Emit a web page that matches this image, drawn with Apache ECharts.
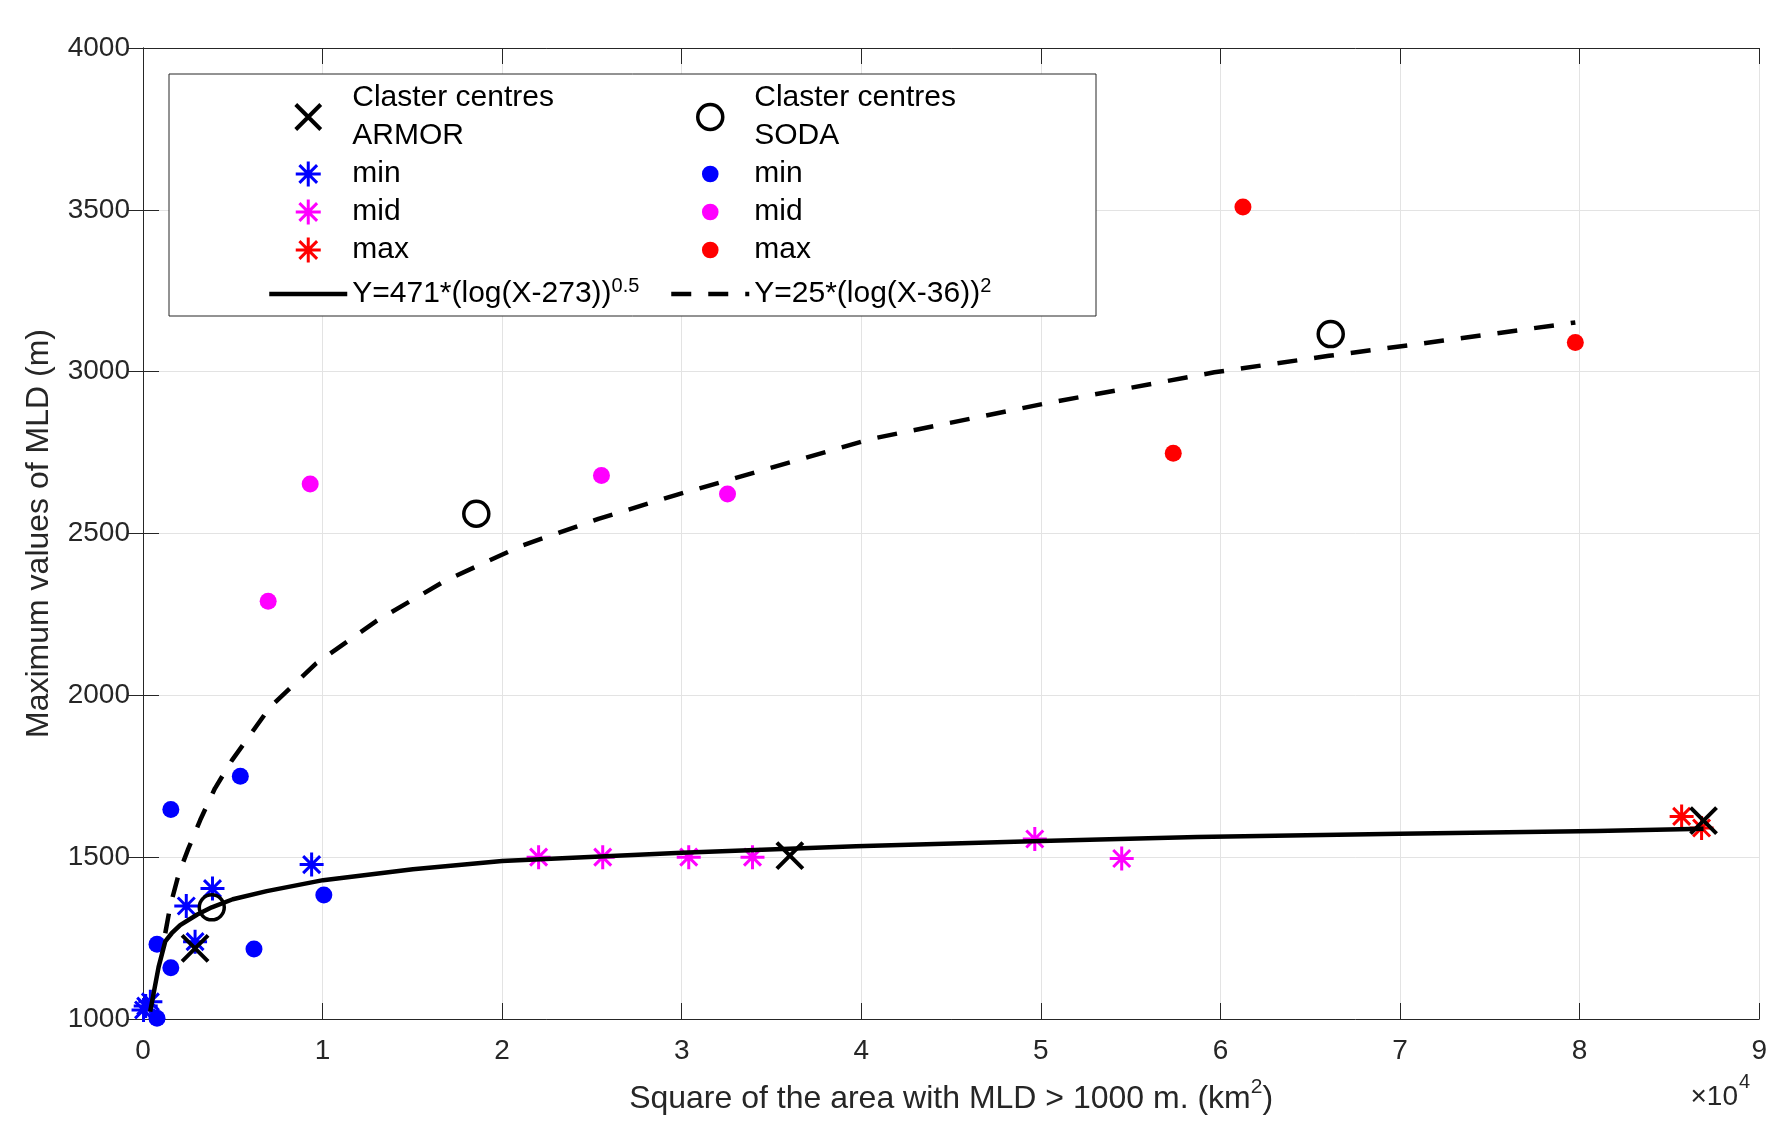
<!DOCTYPE html>
<html>
<head>
<meta charset="utf-8">
<script src="https://cdn.jsdelivr.net/npm/echarts@6/dist/echarts.min.js"></script>
<style>
html,body{margin:0;padding:0;background:#fff}
#main{width:1770px;height:1125px}
</style>
</head>
<body>
<div id="main"></div>
<script>
// values (x in km^2, shown on axis as x/10^4)
var armorCentresX = [2900, 36020, 86900];
var armorCentresY = [1218, 1505, 1613];
var sodaCentresX = [3830, 18560, 66140];
var sodaCentresY = [1345, 2561, 3116];

var armorMinX = [30, 150, 410, 2410, 2900, 3870, 9390];
var armorMinY = [1028, 1040, 1053, 1349, 1239, 1403, 1477];
var armorMidX = [22030, 25600, 30390, 33940, 49660, 54500];
var armorMidY = [1500, 1500, 1500, 1500, 1556, 1496];
var armorMaxX = [85680, 86790];
var armorMaxY = [1626, 1590];

var sodaMinX = [780, 780, 1550, 1550, 5420, 6180, 10070];
var sodaMinY = [1002, 1231, 1158, 1647, 1750, 1216, 1383];
var sodaMidX = [6970, 9310, 25530, 32550];
var sodaMidY = [2291, 2653, 2679, 2622];
var sodaMaxX = [57370, 61250, 79760];
var sodaMaxY = [2748, 3509, 3090];

// fitted curves, points
var armorFitX = [400, 870, 1240, 1600, 2070, 3000, 3830, 5000, 6890, 10030, 15030, 20000, 30000, 39700, 50000, 58700, 70000, 80960, 86900];
var armorFitY = [1023, 1161, 1240, 1265, 1290, 1322, 1345, 1370, 1395, 1429, 1463, 1488, 1514, 1534, 1550, 1562, 1572, 1581, 1588];
var sodaFitX = [1240, 1520, 2000, 2530, 3180, 4000, 4950, 7080, 9630, 13030, 16860, 21110, 25360, 29620, 32590, 40530, 50090, 59660, 66040, 72420, 79760];
var sodaFitY = [1265, 1350, 1450, 1527, 1614, 1712, 1799, 1964, 2098, 2231, 2355, 2463, 2545, 2618, 2665, 2792, 2900, 2998, 3049, 3096, 3152];

var xTicks = ['0', '1', '2', '3', '4', '5', '6', '7', '8', '9'];

function pairs(xs, ys) {
    return xs.map(function (x, i) { return [x, ys[i]]; });
}

var FONT = 'Liberation Sans';
var starPath = 'path://M0,-10L0,10M-10,0L10,0M-7.07,-7.07L7.07,7.07M-7.07,7.07L7.07,-7.07';
var crossPath = 'path://M-10,-10L10,10M-10,10L10,-10';
var dotIcon = 'path://M-12,-12L-12,-12M12,12L12,12M-8,0A8,8 0 1 1 8,0A8,8 0 1 1 -8,0Z';

var legendText = {
    'ARMOR centres': 'Claster centres\nARMOR',
    'ARMOR min': 'min', 'ARMOR mid': 'mid', 'ARMOR max': 'max',
    'ARMOR fit': '{b|Y=471*(log(X-273))}{s|0.5}',
    'SODA centres': 'Claster centres\nSODA',
    'SODA min': 'min', 'SODA mid': 'mid', 'SODA max': 'max',
    'SODA fit': '{b|Y=25*(log(X-36))}{s|2}'
};

var legendTextStyle = {
    fontSize: 30, fontFamily: FONT, color: '#000', lineHeight: 38,
    rich: {
        b: { fontSize: 30, fontFamily: FONT, color: '#000', lineHeight: 50 },
        s: { fontSize: 20, fontFamily: FONT, color: '#000', verticalAlign: 'top', padding: [7, 0, 0, 0] }
    }
};

function starSeries(name, xs, ys, color) {
    return {
        name: name, type: 'scatter', z: 2,
        symbol: starPath, symbolSize: 24,
        itemStyle: { color: color, borderColor: color, borderWidth: 3, opacity: 1 },
        data: pairs(xs, ys)
    };
}
function dotSeries(name, xs, ys, color) {
    return {
        name: name, type: 'scatter', z: 2,
        symbol: 'circle', symbolSize: 17,
        itemStyle: { color: color, borderWidth: 0, opacity: 1 },
        data: pairs(xs, ys)
    };
}

var axisCommon = {
    type: 'value',
    axisLine: { show: true, lineStyle: { color: '#262626', width: 1 } },
    axisTick: { show: true, inside: true, length: 16, lineStyle: { color: '#262626', width: 1 } }
};

var myChart = echarts.init(document.getElementById('main'));
var option = {
    animation: false,
    backgroundColor: '#fff',
    grid: { left: 143, right: 7, top: 48, bottom: 106 },
    xAxis: [
        Object.assign({}, axisCommon, {
            position: 'bottom', min: 0, max: 90000, interval: 10000,
            name: '{m|Square of the area with MLD > 1000 m. (km}{s|2}{m|)}',
            nameLocation: 'middle', nameGap: 52,
            nameTextStyle: {
                color: '#262626', fontFamily: FONT, fontSize: 32,
                rich: {
                    m: { fontSize: 32, fontFamily: FONT, color: '#262626', lineHeight: 56 },
                    s: { fontSize: 21, fontFamily: FONT, color: '#262626', verticalAlign: 'top', padding: [6, 0, 0, 0] }
                }
            },
            axisLabel: {
                color: '#262626', fontSize: 28, fontFamily: FONT, margin: 18,
                formatter: function (v) { return xTicks[Math.round(v / 10000)]; }
            },
            splitLine: { show: true, lineStyle: { color: '#e3e3e3', width: 1 } }
        }),
        Object.assign({}, axisCommon, {
            position: 'top', min: 0, max: 90000, interval: 10000,
            axisLabel: { show: false }, splitLine: { show: false }
        })
    ],
    yAxis: [
        Object.assign({}, axisCommon, {
            position: 'left', min: 1000, max: 4000, interval: 500,
            name: 'Maximum values of MLD (m)',
            nameLocation: 'middle', nameGap: 88,
            nameTextStyle: { color: '#262626', fontFamily: FONT, fontSize: 32 },
            axisLabel: {
                color: '#262626', fontSize: 28, fontFamily: FONT, margin: 13,
                formatter: function (v) { return String(v); }
            },
            splitLine: { show: true, lineStyle: { color: '#e3e3e3', width: 1 } }
        }),
        Object.assign({}, axisCommon, {
            position: 'right', min: 1000, max: 4000, interval: 500,
            axisLabel: { show: false }, splitLine: { show: false }
        })
    ],
    legend: [
        {
            orient: 'vertical', left: 267, top: 79, padding: 0, itemGap: 0,
            itemWidth: 78, itemHeight: 25, selectedMode: false, z: 5,
            textStyle: legendTextStyle,
            formatter: function (n) { return legendText[n]; },
            data: [
                { name: 'ARMOR centres', itemStyle: { borderWidth: 4 } },
                { name: 'ARMOR min', itemStyle: { borderWidth: 3 } },
                { name: 'ARMOR mid', itemStyle: { borderWidth: 3 } },
                { name: 'ARMOR max', itemStyle: { borderWidth: 3 } },
                { name: 'ARMOR fit', lineStyle: { width: 4.5 }, itemStyle: { opacity: 0 } }
            ]
        },
        {
            orient: 'vertical', left: 669, top: 79, padding: 0, itemGap: 0,
            itemWidth: 78, itemHeight: 25, selectedMode: false, z: 5,
            textStyle: legendTextStyle,
            formatter: function (n) { return legendText[n]; },
            data: [
                { name: 'SODA centres', itemStyle: { borderWidth: 3.5 } },
                { name: 'SODA min', icon: dotIcon },
                { name: 'SODA mid', icon: dotIcon },
                { name: 'SODA max', icon: dotIcon },
                { name: 'SODA fit', lineStyle: { width: 4.5 }, itemStyle: { opacity: 0 } }
            ]
        }
    ],
    graphic: [
        {
            type: 'rect', z: 3,
            shape: { x: 169, y: 74, width: 927, height: 242 },
            style: { fill: '#fff', stroke: '#262626', lineWidth: 1 }
        },
        {
            type: 'text', z: 3,
            style: { text: '\u00d710', x: 1738, y: 1097, textAlign: 'right', align: 'right', textVerticalAlign: 'middle', verticalAlign: 'middle', fontSize: 28, fontFamily: FONT, fill: '#262626' }
        },
        {
            type: 'text', z: 3,
            style: { text: '4', x: 1739, y: 1082, textAlign: 'left', align: 'left', textVerticalAlign: 'middle', verticalAlign: 'middle', fontSize: 20, fontFamily: FONT, fill: '#262626' }
        }
    ],
    series: [
        dotSeries('SODA min', sodaMinX, sodaMinY, '#0000ff'),
        dotSeries('SODA mid', sodaMidX, sodaMidY, '#ff00ff'),
        dotSeries('SODA max', sodaMaxX, sodaMaxY, '#ff0000'),
        starSeries('ARMOR min', armorMinX, armorMinY, '#0000ff'),
        starSeries('ARMOR mid', armorMidX, armorMidY, '#ff00ff'),
        starSeries('ARMOR max', armorMaxX, armorMaxY, '#ff0000'),
        {
            name: 'ARMOR fit', type: 'line', z: 3, symbol: 'none', smooth: false,
            lineStyle: { color: '#000', width: 4.5, type: 'solid', join: 'round' },
            itemStyle: { color: '#000' },
            data: pairs(armorFitX, armorFitY)
        },
        {
            name: 'SODA fit', type: 'line', z: 3, symbol: 'none', smooth: false,
            lineStyle: { color: '#000', width: 4.5, type: [20, 17], join: 'round' },
            itemStyle: { color: '#000' },
            data: pairs(sodaFitX, sodaFitY)
        },
        {
            name: 'ARMOR centres', type: 'scatter', z: 4,
            symbol: crossPath, symbolSize: 26,
            itemStyle: { color: '#000', borderColor: '#000', borderWidth: 4, opacity: 1 },
            data: pairs(armorCentresX, armorCentresY)
        },
        {
            name: 'SODA centres', type: 'scatter', z: 4,
            symbol: 'circle', symbolSize: 25,
            itemStyle: { color: 'rgba(0,0,0,0)', borderColor: '#000', borderWidth: 3.5, opacity: 1 },
            data: pairs(sodaCentresX, sodaCentresY)
        }
    ]
};
myChart.setOption(option);
window.addEventListener('resize', function () {
    myChart.resize();
});
</script>
</body>
</html>
